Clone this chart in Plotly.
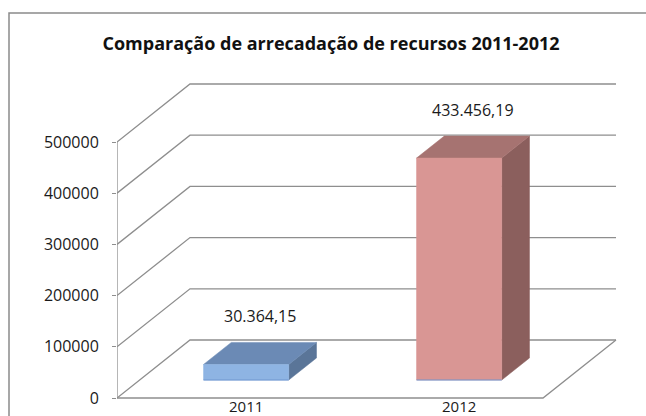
import plotly.graph_objects as go

# ---- data ----
categories = ["2011", "2012"]
values = [30364.15, 433456.19]
y_ticks = [0, 100000, 200000, 300000, 400000, 500000]
title_text = "Comparação de arrecadação de recursos 2011-2012"

# ---- styles ----
front_colors = ["#8EB4E3", "#D99694"]
top_colors = ["#6B8AB5", "#A67371"]
side_colors = ["#5A7598", "#8B5F5D"]
grid_color = "#8E8E8E"
FONT = "Open Sans"

W, H = 646, 416
ML, MR, MT, MB = 117, 29, 60, 16
plot_w = W - ML - MR
plot_h = H - MT - MB
px_per_cat = 213.0
px_per_val = 51.2 / 100000.0
y_lo = -2 / px_per_val
y_hi = y_lo + plot_h / px_per_val
x_hi = plot_w / px_per_cat

DX = 73 / px_per_cat          # depth offset (category units)
DY = 58 / px_per_val          # depth offset (value units)
D0, D1 = 0.31, 0.69           # bar depth span
BAR_W = 0.40


def fmt_br(v):
    s = f"{v:,.2f}"
    return s.replace(",", "X").replace(".", ",").replace("X", ".")


fig = go.Figure()

# walls / grid
x_end = len(categories)
for t in y_ticks:
    fig.add_trace(go.Scatter(x=[0, DX, x_end + DX], y=[t, t + DY, t + DY],
                             mode="lines", line=dict(color=grid_color, width=1.3),
                             hoverinfo="skip", showlegend=False))
# floor front and right edge
fig.add_trace(go.Scatter(x=[0, x_end, x_end + DX], y=[0, 0, DY], mode="lines",
                         line=dict(color=grid_color, width=1.3), hoverinfo="skip", showlegend=False))
# front vertical axis line
fig.add_trace(go.Scatter(x=[0, 0], y=[0, y_ticks[-1]], mode="lines",
                         line=dict(color=grid_color, width=1.3), hoverinfo="skip", showlegend=False))

# bars
for i, (cat, v) in enumerate(zip(categories, values)):
    c = i + 0.5 + D0 * DX
    b = D0 * DY
    xl, xr = c - BAR_W / 2, c + BAR_W / 2
    ddx, ddy = (D1 - D0) * DX, (D1 - D0) * DY
    # side
    fig.add_trace(go.Scatter(x=[xr, xr + ddx, xr + ddx, xr, xr], y=[b, b + ddy, b + v + ddy, b + v, b],
                             fill="toself", fillcolor=side_colors[i], mode="lines",
                             line=dict(color=side_colors[i], width=0.5), hoverinfo="skip", showlegend=False))
    # top
    fig.add_trace(go.Scatter(x=[xl, xl + ddx, xr + ddx, xr, xl],
                             y=[b + v, b + v + ddy, b + v + ddy, b + v, b + v],
                             fill="toself", fillcolor=top_colors[i], mode="lines",
                             line=dict(color=top_colors[i], width=0.5), hoverinfo="skip", showlegend=False))
    # front
    fig.add_trace(go.Scatter(x=[xl, xr, xr, xl, xl], y=[b, b, b + v, b + v, b],
                             fill="toself", fillcolor=front_colors[i], mode="lines",
                             line=dict(color=front_colors[i], width=0.5), name=cat,
                             hoverinfo="skip", showlegend=False))
    # thin base line
    fig.add_trace(go.Scatter(x=[xl, xr], y=[b, b], mode="lines",
                             line=dict(color="#6F95CF", width=1), hoverinfo="skip", showlegend=False))
    # value label
    fig.add_annotation(x=c + (D1 - D0) / 2 * DX, y=b + v + (D1 - D0) / 2 * DY, yshift=37,
                       text=fmt_br(v), showarrow=False,
                       font=dict(family=FONT, size=16, color="#1a1a1a"))
    # category label under the floor
    fig.add_annotation(x=c, y=0, yshift=-8, yanchor="middle",
                       text=cat, showarrow=False,
                       font=dict(family=FONT, size=15, color="#1a1a1a"))

# frame (left and top edges; the rest runs off the picture)
fx0 = (9 - ML) / plot_w
fx1 = (W + 40 - ML) / plot_w
fy_top = (H - MB - 13) / plot_h
fy_bot = -(H + 40 - (H - MB)) / plot_h
fig.add_shape(type="path", xref="paper", yref="paper",
              path=f"M {fx0} {fy_bot} L {fx0} {fy_top} L {fx1} {fy_top}",
              line=dict(color="#8A8A8A", width=1.5), layer="below")

fig.update_layout(
    width=W, height=H, autosize=False,
    margin=dict(l=ML, r=MR, t=MT, b=MB, autoexpand=False),
    paper_bgcolor="white", plot_bgcolor="white",
    title=dict(text=title_text, x=331 / W, xref="container", xanchor="center",
               y=1 - 44 / H, yref="container", yanchor="middle", automargin=False,
               font=dict(family=FONT, size=18, color="#111111", weight="bold")),
    xaxis=dict(range=[0, x_hi], showgrid=False, zeroline=False, showline=False,
               automargin=False, showticklabels=False, ticks="", fixedrange=True),
    yaxis=dict(range=[y_lo, y_hi], showgrid=False, zeroline=False, showline=False,
               automargin=False,
               tickvals=y_ticks, ticktext=[str(t) for t in y_ticks],
               ticks="outside", ticklen=4, tickcolor=grid_color, tickwidth=1.3,
               ticklabelstandoff=10,
               tickfont=dict(family=FONT, size=16, color="#1a1a1a"), fixedrange=True),
    showlegend=False,
)

fig.write_html("out.html", config={"displayModeBar": False},
               post_script="document.body.style.margin='0';document.body.style.overflow='hidden';")
